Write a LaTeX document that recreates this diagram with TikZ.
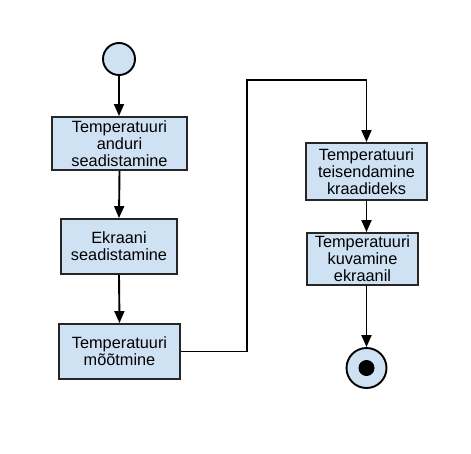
\documentclass[tikz,border=0pt]{standalone}
\usepackage{fontspec}
\setmainfont{Liberation Sans}
\usetikzlibrary{arrows.meta}
\definecolor{boxfill}{HTML}{CFE2F3}
\begin{document}
\begin{tikzpicture}[x=1pt,y=-1pt,
  box/.style={draw=black!85, line width=1.9pt, fill=boxfill, rectangle, inner sep=0pt,
    align=center, font=\fontsize{16.3}{17}\selectfont},
  arr/.style={line width=1.9pt, -{Triangle[length=12pt,width=10pt]}},
  ln/.style={line width=1.9pt}]
\useasboundingbox (0,0) rectangle (471,453);
\node[circle, draw, line width=1.9pt, fill=boxfill, minimum size=32pt, inner sep=0pt] (start) at (119,59) {};
\node[box, minimum width=135pt, minimum height=53pt] (b1) at (119.5,143.5) {Temperatuuri\\anduri\\seadistamine};
\node[box, minimum width=116pt, minimum height=55pt] (b2) at (119,246.5) {Ekraani\\seadistamine};
\node[box, minimum width=121pt, minimum height=55pt] (b3) at (119.5,351.5) {Temperatuuri\\mõõtmine};
\node[box, minimum width=121pt, minimum height=57pt] (b4) at (366.5,171.5) {Temperatuuri\\teisendamine\\kraadideks};
\node[box, minimum width=111pt, minimum height=52pt] (b5) at (362.5,259) {Temperatuuri\\kuvamine\\ekraanil};
\node[circle, draw, line width=1.9pt, fill=boxfill, minimum size=40pt, inner sep=0pt] (end) at (366.5,368) {};
\node[circle, fill=black, minimum size=16pt, inner sep=0pt] (enddot) at (end.center) {};
\coordinate (c1) at (247,351.5);
\coordinate (c2) at (247,80);
\coordinate (c3) at (366.5,80);
\draw[arr] (start) -- (start |- b1.north);
\draw[arr] (b1.south) -- (b2.north);
\draw[arr] (b2.south) -- (b3.north);
\draw[arr] (b3.east) -- (c1) -- (c2) -- (c3) -- (b4.north);
\draw[arr] (b4.south) -- (b4.south |- b5.north);
\draw[arr] (b4.south |- b5.south) -- (end.north);
\end{tikzpicture}
\end{document}
